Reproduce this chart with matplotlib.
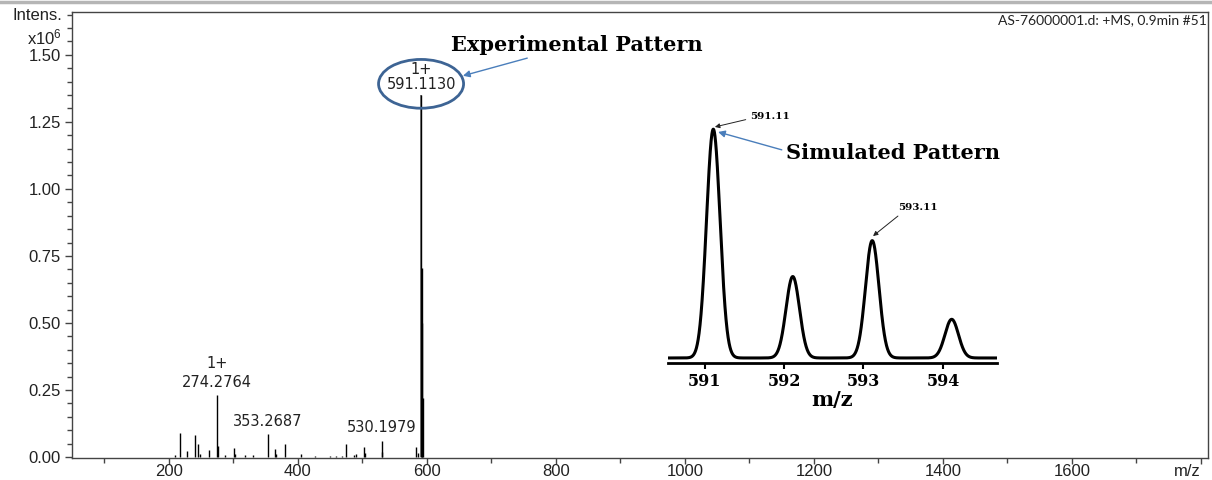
import numpy as np
import matplotlib
matplotlib.use("Agg")
import matplotlib.pyplot as plt
from matplotlib.patches import Ellipse
from matplotlib.lines import Line2D
from matplotlib.ticker import FixedLocator, MultipleLocator

plt.rcParams['font.family'] = ['Liberation Sans', 'DejaVu Sans']
plt.rcParams['mathtext.default'] = 'regular'

# Messdaten: Strichspektrum (m/z, Intensitaet in 1e6)
mz = [209, 218, 229, 240, 246, 249, 262, 274.2764, 276, 287, 301, 303, 318,
      330, 353.2687, 365, 367, 380, 405, 427, 450, 460, 468, 475, 487, 491,
      502, 504, 530.1979, 531, 583, 586, 591.1130, 592.11, 593.11, 594.11]
intens = [0.008, 0.09, 0.022, 0.082, 0.048, 0.010, 0.025, 0.23, 0.040,
          0.006, 0.035, 0.012, 0.006, 0.006, 0.085, 0.030, 0.010, 0.048,
          0.012, 0.005, 0.004, 0.004, 0.005, 0.048, 0.006, 0.012, 0.038,
          0.015, 0.060, 0.020, 0.038, 0.015, 1.35, 0.50, 0.705, 0.22]

# beschriftete Peaks
lab_mz = [274.2764, 353.2687, 530.1979]
lab_h = [0.23, 0.085, 0.060]
lab_txt = ['1+\n274.2764', '353.2687', '530.1979']
main_mz = 591.1130
main_h = 1.35

xticks = [200, 400, 600, 800, 1000, 1200, 1400, 1600, 1800]
xticklabels = ['200', '400', '600', '800', '1000', '1200', '1400', '1600', 'm/z']
yticks = [0.0, 0.25, 0.5, 0.75, 1.0, 1.25, 1.5]

# simuliertes Isotopenmuster
sim_mz = [591.11, 592.11, 593.11, 594.11]
sim_rel = [1.00, 0.356, 0.513, 0.169]
sim_fwhm = 0.2
sim_ticks = [591, 592, 593, 594]

SERIF = 'DejaVu Serif'
W, H = 1212, 480
fig = plt.figure(figsize=(W / 100, H / 100), dpi=100)

ax = fig.add_axes([72 / W, 22 / H, 1136 / W, 446 / H])
ax.vlines(mz, 0, intens, color='black', lw=1.0)
ax.vlines([main_mz], 0, [main_h], color='#6a6a6a', lw=1.2, zorder=1)
ax.set_xlim(50, 1811)
ax.set_ylim(-0.004, 1.66)

ax.xaxis.set_major_locator(FixedLocator(xticks))
ax.set_xticklabels(xticklabels)
ax.get_xticklabels()[-1].set_horizontalalignment('right')
ax.xaxis.set_minor_locator(MultipleLocator(100))
ax.set_yticks(yticks)
ax.set_yticklabels(['%.2f' % v for v in yticks])
ax.yaxis.set_minor_locator(MultipleLocator(0.05))
ax.tick_params(which='both', direction='out', color='#444444', width=1,
               labelsize=12, labelcolor='#222222')
ax.tick_params(axis='y', which='major', length=5, pad=3)
ax.tick_params(axis='x', which='major', length=4, pad=0.5)
ax.tick_params(which='minor', length=3.5)
for s in ax.spines.values():
    s.set_color('#444444')
    s.set_linewidth(1.0)

for m, h, t in zip(lab_mz, lab_h, lab_txt):
    ax.annotate(t, xy=(m, h), xytext=(0, 4), textcoords='offset points',
                ha='center', va='bottom', fontsize=10.5, linespacing=1.35,
                family='DejaVu Sans', color='#222222')

# Markierung des Hauptpeaks
ax.add_patch(Ellipse((main_mz, main_h + 0.042), 131.8, 0.182, fill=False,
                     ec='#3d6494', lw=2.0, zorder=3))
ax.text(main_mz, main_h + 0.040, '%.4f' % main_mz, ha='center', va='center',
        fontsize=10.5, family='DejaVu Sans', color='#222222')
ax.text(main_mz, main_h + 0.096, '1+', ha='center', va='center',
        fontsize=10.5, family='DejaVu Sans', color='#222222')
ax.annotate('Experimental Pattern', xy=(656, 1.422), xytext=(832, 1.537),
            ha='center', va='center', fontsize=15, fontweight='bold',
            family=SERIF,
            arrowprops=dict(arrowstyle='-|>', color='#4a7ebb', lw=1,
                            relpos=(0.35, 0), shrinkA=1, shrinkB=0,
                            mutation_scale=10))

fig.text(1207 / W, 1 - 20 / H, 'AS-76000001.d: +MS, 0.9min #51',
         ha='right', va='center', fontsize=10, family='Lato',
         color='#222222')
fig.text(62 / W, 1 - 15 / H, 'Intens.', ha='right', va='center',
         fontsize=12, color='#222222')
fig.text(62 / W, 1 - 37 / H, 'x10$^{6}$', ha='right', va='center',
         fontsize=12, color='#222222')
fig.add_artist(Line2D([0, 1], [1 - 2 / H, 1 - 2 / H],
                      transform=fig.transFigure, color='#b5b5b5', lw=2.5))

# Inset: simuliertes Muster
ax2 = fig.add_axes([668 / W, 117 / H, 329 / W, 253 / H])
ax2.patch.set_alpha(0)
xs = np.linspace(590.54, 594.68, 3000)
sig = sim_fwhm / 2.3548
ys = np.zeros_like(xs)
for c, h in zip(sim_mz, sim_rel):
    ys += h * np.exp(-0.5 * ((xs - c) / sig) ** 2)
ax2.plot(xs, ys, color='black', lw=2.2, solid_joinstyle='round')
ax2.set_xlim(590.54, 594.68)
ax2.set_ylim(-0.022, 1.084)
for k in ['left', 'right', 'top']:
    ax2.spines[k].set_visible(False)
ax2.spines['bottom'].set_linewidth(2)
ax2.set_yticks([])
ax2.set_xticks(sim_ticks)
ax2.tick_params(axis='x', direction='out', length=4, width=1.5, pad=3)
for lab in ax2.get_xticklabels():
    lab.set_fontfamily(SERIF)
    lab.set_fontweight('bold')
    lab.set_fontsize(11.5)
ax2.set_xlabel('m/z', fontsize=15, fontweight='bold', family=SERIF,
               labelpad=0)

ax2.annotate('591.11', xy=(591.13, 1.01), xytext=(591.82, 1.054),
             ha='center', va='center', fontsize=7.5, fontweight='bold',
             family=SERIF,
             arrowprops=dict(arrowstyle='-|>', color='#222222', lw=0.7,
                             relpos=(0, 0.3), shrinkA=1, shrinkB=0,
                             mutation_scale=7))
ax2.annotate('593.11', xy=(593.12, 0.533), xytext=(593.69, 0.656),
             ha='center', va='center', fontsize=7.5, fontweight='bold',
             family=SERIF,
             arrowprops=dict(arrowstyle='-|>', color='#222222', lw=0.7,
                             relpos=(0.1, 0), shrinkA=1, shrinkB=0,
                             mutation_scale=7))
ax2.annotate('Simulated Pattern', xy=(591.17, 0.988), xytext=(593.37, 0.896),
             ha='center', va='center', fontsize=15, fontweight='bold',
             family=SERIF,
             arrowprops=dict(arrowstyle='-|>', color='#4a7ebb', lw=1,
                             relpos=(0, 0.6), shrinkA=1, shrinkB=0,
                             mutation_scale=10))

fig.savefig('out.png', dpi=100)
